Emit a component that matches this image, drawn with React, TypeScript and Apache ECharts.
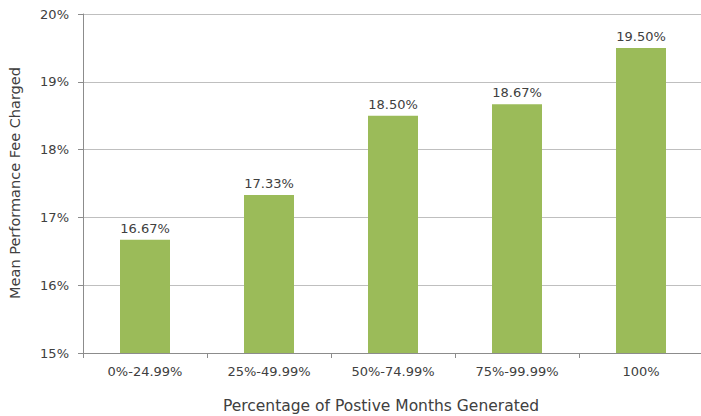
import React, { useEffect, useRef } from "react";
import * as echarts from "echarts";

const categories = ["0%-24.99%", "25%-49.99%", "50%-74.99%", "75%-99.99%", "100%"];
const meanFee = [16.67, 17.33, 18.5, 18.67, 19.5];
const yMin = 15;
const yMax = 20;
const yStep = 1;
const xTitle = "Percentage of Postive Months Generated";
const yTitle = "Mean Performance Fee Charged";

const FONT = "'DejaVu Sans', sans-serif";
const TEXT = "#404040";

export default function App() {
  const ref = useRef<HTMLDivElement>(null);
  useEffect(() => {
    document.body.style.margin = "0";
    if (!ref.current) return;
    const chart = echarts.init(ref.current, null, { renderer: "svg" });
    chart.setOption({
      animation: false,
      backgroundColor: "#ffffff",
      textStyle: { fontFamily: FONT },
      grid: { left: 83, right: -2, top: 14, bottom: 63, outerBoundsMode: "none", containLabel: false },
      xAxis: {
        type: "category",
        data: categories,
        axisLine: { show: true, lineStyle: { color: "#8c8c8c", width: 1 } },
        axisTick: { show: true, length: 5, alignWithLabel: false, lineStyle: { color: "#8c8c8c" } },
        axisLabel: { color: TEXT, fontSize: 13, fontFamily: FONT, margin: 12, interval: 0 },
        splitLine: { show: false },
      },
      yAxis: {
        type: "value",
        min: yMin,
        max: yMax,
        interval: yStep,
        axisLine: { show: true, lineStyle: { color: "#8c8c8c", width: 1 } },
        axisTick: { show: true, length: 5, lineStyle: { color: "#8c8c8c" } },
        axisLabel: { color: TEXT, fontSize: 13, fontFamily: FONT, margin: 14, formatter: (v: number) => `${v}%` },
        splitLine: { show: true, lineStyle: { color: "#bfbfbf", width: 1 } },
      },
      series: [
        {
          type: "bar",
          data: meanFee,
          barWidth: 50,
          itemStyle: { color: "#9bbb59" },
          label: {
            show: true,
            position: "top",
            distance: 5,
            color: TEXT,
            fontSize: 13,
            fontFamily: FONT,
            formatter: (p: any) => `${Number(p.value).toFixed(2)}%`,
          },
        },
      ],
      graphic: [
        {
          type: "text",
          x: 381,
          y: 406,
          style: { text: xTitle, fill: TEXT, font: `15.5px ${FONT}`, align: "center", verticalAlign: "middle" },
        },
        {
          type: "text",
          x: 15,
          y: 183,
          rotation: Math.PI / 2,
          style: { text: yTitle, fill: TEXT, font: `14.5px ${FONT}`, align: "center", verticalAlign: "middle" },
        },
      ],
    });
    return () => chart.dispose();
  }, []);
  return <div ref={ref} style={{ width: 701, height: 416 }} />;
}
